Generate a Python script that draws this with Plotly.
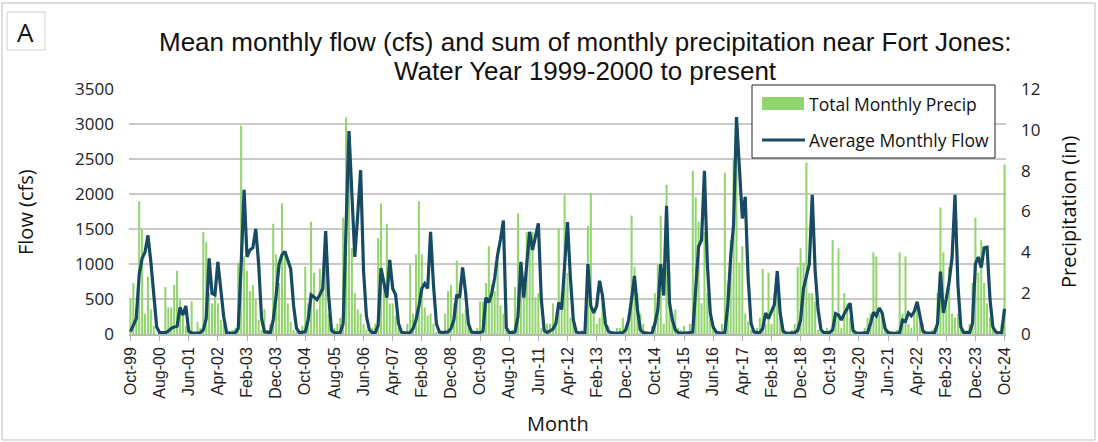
import pandas as pd
import plotly.graph_objects as go

# ---------------- data ----------------
months = pd.date_range("1999-10-01", periods=301, freq="MS").strftime("%b-%y").tolist()

tick_labels = ["Oct-99", "Aug-00", "Jun-01", "Apr-02", "Feb-03", "Dec-03", "Oct-04", "Aug-05",
               "Jun-06", "Apr-07", "Feb-08", "Dec-08", "Oct-09", "Aug-10", "Jun-11", "Apr-12",
               "Feb-13", "Dec-13", "Oct-14", "Aug-15", "Jun-16", "Apr-17", "Feb-18", "Dec-18",
               "Oct-19", "Aug-20", "Jun-21", "Apr-22", "Feb-23", "Dec-23", "Oct-24"]

# Average monthly flow (cfs), Oct-99 .. Oct-24
flow_cfs = [
    35, 130, 220, 850, 1080, 1170, 1410, 1030, 500, 100, 20, 20,
    20, 40, 80, 100, 110, 380, 270, 400, 40, 15, 10, 10,
    20, 60, 220, 1080, 580, 560, 1030, 630, 250, 20, 10, 10,
    20, 80, 1000, 2060, 1100, 1200, 1230, 1500, 1000, 220, 30, 20,
    20, 200, 550, 1000, 1130, 1180, 1050, 930, 400, 80, 20, 20,
    30, 200, 560, 530, 490, 560, 650, 1470, 560, 50, 20, 15,
    20, 150, 1400, 2900, 2000, 1100, 1700, 2340, 900, 250, 60, 20,
    20, 120, 940, 700, 520, 1060, 650, 560, 150, 30, 15, 15,
    20, 80, 200, 400, 650, 720, 650, 1460, 700, 150, 30, 20,
    20, 30, 80, 200, 560, 520, 950, 600, 150, 30, 20, 20,
    20, 40, 520, 450, 580, 800, 1130, 1350, 1620, 90, 20, 20,
    30, 250, 1030, 520, 1000, 1460, 1200, 1400, 1580, 500, 50, 20,
    40, 70, 150, 450, 350, 1000, 1600, 800, 200, 30, 15, 15,
    20, 1000, 400, 300, 400, 760, 550, 150, 40, 20, 10, 10,
    15, 20, 60, 200, 500, 830, 350, 60, 20, 10, 10, 10,
    150, 350, 1000, 550, 1830, 450, 200, 60, 20, 10, 10, 10,
    20, 30, 700, 1250, 1340, 2330, 1000, 300, 100, 30, 15, 10,
    20, 400, 1100, 1560, 3100, 2300, 1650, 1960, 800, 150, 30, 20,
    20, 80, 300, 220, 330, 420, 900, 300, 40, 15, 10, 10,
    20, 50, 200, 650, 850, 1000, 1990, 900, 350, 60, 20, 15,
    20, 60, 290, 270, 200, 290, 360, 440, 50, 15, 10, 10,
    10, 20, 150, 310, 260, 370, 300, 80, 20, 10, 10, 10,
    20, 200, 180, 300, 260, 320, 460, 250, 40, 15, 10, 10,
    20, 150, 890, 300, 500, 750, 1100, 1990, 700, 100, 20, 15,
    20, 150, 1000, 1100, 950, 1230, 1240, 500, 100, 30, 15, 20,
    360,
]

# Total monthly precipitation (in), Oct-99 .. Oct-24
precip_in = [
    1.7, 2.5, 1.3, 6.5, 5.1, 1.0, 2.8, 1.2, 0.4, 0.0, 0.1, 0.1,
    2.3, 1.3, 1.3, 2.4, 3.1, 1.7, 0.9, 0.4, 0.2, 1.6, 0.1, 0.6,
    0.3, 5.0, 4.5, 2.0, 1.5, 2.0, 1.5, 0.7, 0.5, 0.1, 0.0, 0.2,
    0.3, 3.5, 10.2, 3.8, 3.1, 2.1, 2.4, 1.7, 0.7, 0.2, 1.2, 0.2,
    0.5, 5.4, 3.9, 2.5, 6.4, 3.9, 1.5, 0.6, 0.2, 0.1, 0.0, 0.4,
    3.3, 1.5, 5.5, 3.0, 1.2, 3.2, 2.6, 3.3, 1.0, 0.2, 0.3, 0.5,
    0.8, 5.7, 10.6, 7.8, 4.2, 2.0, 1.2, 1.0, 0.5, 0.2, 0.1, 0.3,
    0.5, 4.7, 6.4, 2.5, 5.4, 1.5, 1.5, 0.9, 0.3, 0.1, 0.1, 0.5,
    3.4, 1.0, 3.9, 6.5, 3.9, 1.3, 0.9, 1.0, 0.5, 0.1, 0.1, 0.1,
    1.0, 2.1, 2.4, 1.5, 3.6, 2.5, 1.0, 1.2, 0.5, 0.1, 0.1, 0.3,
    1.6, 1.6, 2.5, 4.3, 2.4, 2.1, 3.5, 1.4, 1.0, 0.2, 0.1, 0.2,
    2.3, 5.9, 3.0, 2.0, 5.0, 5.0, 5.0, 1.8, 2.0, 0.3, 0.1, 0.5,
    0.5, 1.5, 0.5, 5.2, 2.0, 6.8, 3.0, 0.8, 0.9, 0.1, 0.1, 0.2,
    1.0, 5.3, 6.9, 1.0, 0.5, 0.8, 1.5, 0.8, 0.4, 0.1, 0.1, 0.3,
    0.3, 0.8, 0.4, 1.0, 5.8, 3.3, 2.0, 1.0, 0.5, 0.1, 0.1, 0.4,
    2.0, 3.4, 5.8, 0.5, 7.3, 3.0, 1.0, 1.2, 0.3, 0.2, 0.4, 0.1,
    0.5, 8.0, 6.7, 5.5, 1.5, 5.0, 2.0, 0.8, 0.3, 0.1, 0.1, 0.5,
    7.9, 2.5, 4.6, 8.5, 9.0, 3.5, 4.3, 1.0, 0.6, 0.2, 0.1, 0.3,
    0.8, 3.2, 0.5, 3.0, 0.5, 2.0, 2.5, 0.8, 0.3, 0.1, 0.1, 0.2,
    0.5, 3.3, 4.2, 3.5, 8.4, 2.0, 2.0, 1.6, 0.2, 0.1, 0.1, 0.3,
    0.2, 4.6, 1.0, 4.2, 0.3, 2.0, 1.5, 0.8, 0.2, 0.0, 0.1, 0.1,
    0.3, 0.8, 1.0, 4.0, 3.8, 1.0, 0.8, 0.3, 0.2, 0.1, 0.1, 0.2,
    4.0, 1.0, 3.8, 0.5, 0.3, 1.0, 1.5, 1.0, 0.5, 0.1, 0.1, 0.2,
    0.3, 2.0, 6.2, 4.0, 1.5, 3.3, 1.0, 0.8, 1.0, 0.2, 0.1, 0.2,
    0.5, 2.5, 5.7, 3.0, 4.6, 2.5, 1.5, 0.8, 0.3, 0.1, 0.1, 0.5,
    8.3,
]

# ---------------- style ----------------
W, H = 1098, 442
L, R, T, B = 129, 92, 89, 108
PW, PH = W - L - R, H - T - B
GREEN = "#92d46e"
NAVY = "#174a63"
SANS = "Open Sans, Arial, sans-serif"
TITLEF = "Liberation Sans, Arial, sans-serif"
ARIAL = "Liberation Sans, Arial, sans-serif"


def px(x):
    return (x - L) / PW


def py(y):
    return (H - B - y) / PH


fig = go.Figure()
fig.add_trace(go.Bar(x=months, y=precip_in, name="Total Monthly Precip",
                     marker=dict(color=GREEN, line=dict(width=0)), yaxis="y"))
fig.add_trace(go.Scatter(x=months, y=flow_cfs, name="Average Monthly Flow", mode="lines",
                         line=dict(color=NAVY, width=3.2), yaxis="y2"))

fig.update_layout(
    width=W, height=H, margin=dict(l=L, r=R, t=T, b=B),
    paper_bgcolor="white", plot_bgcolor="white",
    showlegend=False, bargap=0.3,
    xaxis=dict(type="category", range=[-0.5, 300.5], tickmode="array",
               tickvals=tick_labels, ticktext=tick_labels, tickangle=-90,
               tickfont=dict(family=ARIAL, size=16, color="#222"),
               ticks="outside", ticklen=5, tickcolor="#b0b0b0",
               showline=True, linecolor="#b8b8b8", linewidth=1.5, showgrid=False),
    yaxis=dict(side="right", range=[0, 12], dtick=2, showgrid=False, zeroline=False,
               tickfont=dict(family=SANS, size=17, color="#222"), ticklabelstandoff=14),
    yaxis2=dict(side="left", overlaying="y", range=[0, 3500], dtick=500,
                showgrid=True, gridcolor="#c9c9c9", gridwidth=1.6, zeroline=False,
                tickfont=dict(family=SANS, size=17, color="#222"), ticklabelstandoff=14),
)

shapes = [
    # outer frame
    dict(type="rect", xref="paper", yref="paper", x0=px(2), x1=px(1095), y0=py(440), y1=py(3),
         line=dict(color="#bdbdbd", width=1)),
    # "A" box
    dict(type="rect", xref="paper", yref="paper", x0=px(7), x1=px(45), y0=py(50), y1=py(12),
         line=dict(color="#d0d0d0", width=1)),
    # legend box
    dict(type="rect", xref="paper", yref="paper", x0=px(752), x1=px(995), y0=py(158), y1=py(85),
         line=dict(color="#222", width=1), fillcolor="white", layer="above"),
    dict(type="rect", xref="paper", yref="paper", x0=px(762), x1=px(804), y0=py(110), y1=py(97),
         line=dict(width=0), fillcolor=GREEN, layer="above"),
    dict(type="line", xref="paper", yref="paper", x0=px(762), x1=px(805), y0=py(140), y1=py(140),
         line=dict(color=NAVY, width=3.2), layer="above"),
]

annotations = [
    dict(text="A", x=px(25.5), y=py(31.5), xref="paper", yref="paper", showarrow=False,
         font=dict(family=SANS, size=26, color="#111"), xanchor="center", yanchor="middle"),
    dict(text="Mean monthly flow (cfs) and sum of monthly precipitation near Fort Jones:",
         x=px(585), y=py(42), xref="paper", yref="paper", showarrow=False,
         font=dict(family=TITLEF, size=26, color="#111"), xanchor="center", yanchor="middle"),
    dict(text="Water Year 1999-2000 to present",
         x=px(585), y=py(71), xref="paper", yref="paper", showarrow=False,
         font=dict(family=TITLEF, size=26, color="#111"), xanchor="center", yanchor="middle"),
    dict(text="Total Monthly Precip", x=px(807), y=py(104), xref="paper", yref="paper",
         showarrow=False, font=dict(family=SANS, size=17.5, color="#111"),
         xanchor="left", yanchor="middle"),
    dict(text="Average Monthly Flow", x=px(807), y=py(140), xref="paper", yref="paper",
         showarrow=False, font=dict(family=SANS, size=17.5, color="#111"),
         xanchor="left", yanchor="middle"),
    dict(text="Flow (cfs)", x=px(25), y=py(212), xref="paper", yref="paper", showarrow=False,
         textangle=-90, font=dict(family=SANS, size=20, color="#111"),
         xanchor="center", yanchor="middle"),
    dict(text="Precipitation (in)", x=px(1068), y=py(212), xref="paper", yref="paper",
         showarrow=False, textangle=-90, font=dict(family=SANS, size=20, color="#111"),
         xanchor="center", yanchor="middle"),
    dict(text="Month", x=px(558), y=py(423), xref="paper", yref="paper", showarrow=False,
         font=dict(family=SANS, size=20, color="#111"), xanchor="center", yanchor="middle"),
]

fig.update_layout(shapes=shapes, annotations=annotations)
fig.write_html("out.html")
